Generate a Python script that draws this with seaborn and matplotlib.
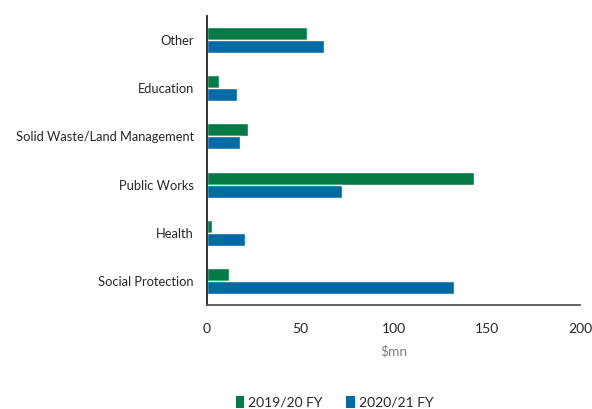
import matplotlib
matplotlib.use("Agg")
import matplotlib.pyplot as plt
import seaborn as sns
import pandas as pd
from matplotlib.patches import Patch

categories = ["Other", "Education", "Solid Waste/Land Management",
              "Public Works", "Health", "Social Protection"]
fy_2019_20 = [53.8, 6.6, 22.2, 143.0, 2.9, 12.0]
fy_2020_21 = [62.5, 15.9, 17.5, 72.5, 20.6, 132.3]
series_names = ["2019/20 FY", "2020/21 FY"]
x_ticks = [0, 50, 100, 150, 200]

colors = ["#057A46", "#036BA2"]

df = pd.DataFrame({
    "category": categories * 2,
    "value": fy_2019_20 + fy_2020_21,
    "year": [series_names[0]] * len(categories) + [series_names[1]] * len(categories),
})

sns.set_style("white")
plt.rcParams["font.family"] = ["Lato", "DejaVu Sans"]

fig = plt.figure(figsize=(5.92, 4.09), dpi=100)
ax = fig.add_axes([0.3497, 0.2543, 0.6300, 0.7066])

sns.barplot(data=df, x="value", y="category", hue="year", order=categories,
            hue_order=series_names, palette=colors, width=0.54, orient="h",
            ax=ax, legend=False, saturation=1)

ax.set_xlim(0, 200)
ax.set_ylim(len(categories) - 0.5, -0.5)
ax.set_xticks(x_ticks)
ax.set_xticklabels([str(t) for t in x_ticks], fontsize=10)
ax.set_yticks(range(len(categories)))
ax.set_yticklabels(categories, fontsize=9.3)
ax.tick_params(axis="y", which="major", length=0, pad=9.5)
ax.set_yticks([i - 0.5 for i in range(len(categories) + 1)], minor=True)
ax.tick_params(axis="y", which="minor", length=5, width=1.2, color="#333333", direction="out")
ax.tick_params(axis="x", which="major", length=5, width=1.2, color="#555555", direction="out", pad=8)

ax.set_xlabel("$mn", fontsize=10, color="#808080", labelpad=7)
ax.set_ylabel("")

for side in ["top", "right"]:
    ax.spines[side].set_visible(False)
ax.spines["left"].set_color("#222222")
ax.spines["left"].set_linewidth(1.3)
ax.spines["bottom"].set_color("#555555")
ax.spines["bottom"].set_linewidth(1.3)

handles = [Patch(facecolor=c, edgecolor="none") for c in colors]
fig.legend(handles, series_names, loc="lower center", bbox_to_anchor=(0.565, -0.03),
           ncol=2, frameon=False, fontsize=10, handlelength=0.6, handleheight=0.9,
           handletextpad=0.3, columnspacing=1.7)

fig.savefig("out.png", dpi=100)
